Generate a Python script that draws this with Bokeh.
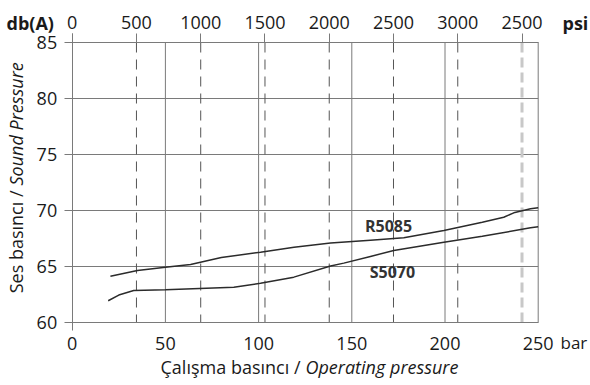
import math
from bokeh.plotting import figure
from bokeh.models import Range1d, LinearAxis, FixedTicker, Label
from bokeh.core.properties import value
from bokeh.embed import file_html
from bokeh.resources import INLINE

# ---------------- data ----------------
PSI_PER_BAR = 14.5038

bar_ticks = [0, 50, 100, 150, 200, 250]
db_ticks = [60, 65, 70, 75, 80, 85]
psi_ticks = [0, 500, 1000, 1500, 2000, 2500, 3000, 3500]
psi_labels = ["0", "500", "1000", "1500", "2000", "2500", "3000", "2500"]

r5085_bar = [20.5, 35, 50, 63.5, 80, 101, 119, 138.6, 160, 177.9, 199.4, 220, 231.5, 236.9, 245.9, 250]
r5085_db = [64.13, 64.64, 64.94, 65.18, 65.8, 66.28, 66.72, 67.1, 67.35, 67.56, 68.21, 68.95, 69.4, 69.79, 70.15, 70.25]

s5070_bar = [19.3, 25, 33, 50, 86.7, 101, 118.9, 138.6, 145.7, 160, 172.5, 199.4, 220, 245.9, 250]
s5070_db = [61.94, 62.45, 62.86, 62.92, 63.15, 63.5, 64.05, 65.05, 65.3, 65.9, 66.43, 67.17, 67.7, 68.45, 68.55]

series_names = ["R5085", "S5070"]
series_label_bar = [169.7, 171.8]
series_label_db = [68.66, 64.5]

# ---------------- layout (pixels) ----------------
W, H = 590, 385
PX_L, PX_R = 71.7, 537.7      # x of 0 bar / 250 bar
PY_T, PY_B = 42.0, 322.0      # y of 85 dB / 60 dB
XMIN, XMAX = bar_ticks[0], bar_ticks[-1]
YMIN, YMAX = db_ticks[0], db_ticks[-1]
kx = (PX_R - PX_L) / (XMAX - XMIN)
ky = (PY_B - PY_T) / (YMAX - YMIN)

def bx(px):
    return XMIN + (px - PX_L) / kx

def dy(py):
    return YMAX - (py - PY_T) / ky

FONT = "Open Sans"
TEXT = "#1a1a1a"
GRID = "#7a7a7a"
CURVE = "#2b2b2b"
FS = "18px"

p = figure(width=W, height=H,
           x_range=Range1d(bx(0), bx(W)), y_range=Range1d(dy(H), dy(0)),
           x_axis_type=None, y_axis_type=None,
           output_backend="svg", toolbar_location=None,
           min_border=0, min_border_left=0, min_border_right=0,
           min_border_top=0, min_border_bottom=0)
p.background_fill_color = "white"
p.border_fill_color = "white"
p.outline_line_color = None

# solid grid lines (bounded to the chart area)
vx = bar_ticks[1:]
p.segment(x0=vx, y0=[YMIN] * len(vx), x1=vx, y1=[YMAX] * len(vx),
          line_color=GRID, line_width=1)
hy = db_ticks[1:]
p.segment(x0=[XMIN] * len(hy), y0=hy, x1=[XMAX] * len(hy), y1=hy,
          line_color=GRID, line_width=1)

# dashed psi grid lines
psi_bar = [v / PSI_PER_BAR for v in psi_ticks]
dx = psi_bar[1:-1]
p.segment(x0=dx, y0=[YMAX] * len(dx), x1=dx, y1=[YMIN] * len(dx),
          line_color="#555555", line_width=1, line_dash="10 7")
lx = psi_bar[-1:]
p.segment(x0=lx, y0=[YMAX] * len(lx), x1=lx, y1=[YMIN] * len(lx),
          line_color="#c8c8c8", line_width=3, line_dash="10 5")

def style_axis(ax):
    ax.axis_line_color = GRID
    ax.major_tick_line_color = GRID
    ax.minor_tick_line_color = None
    ax.major_label_text_font = FONT
    ax.major_label_text_font_size = FS
    ax.major_label_text_color = TEXT
    ax.axis_label = None

bottom = LinearAxis(fixed_location=YMIN, ticker=FixedTicker(ticks=bar_ticks), bounds=(XMIN, XMAX))
style_axis(bottom)
bottom.major_tick_out = 0
bottom.major_tick_in = 0
bottom.major_label_standoff = 14
p.add_layout(bottom, "below")

left = LinearAxis(fixed_location=XMIN, ticker=FixedTicker(ticks=db_ticks), bounds=(dy(330), dy(33)))
style_axis(left)
left.major_tick_out = 8
left.major_tick_in = 0
left.major_label_standoff = 7
p.add_layout(left, "left")

top = LinearAxis(fixed_location=YMAX, ticker=FixedTicker(ticks=psi_bar), bounds=(XMIN, XMAX),
                 major_label_overrides={psi_bar[i]: psi_labels[i] for i in range(len(psi_bar))})
style_axis(top)
top.major_tick_out = 9
top.major_tick_in = 0
top.major_label_standoff = 5
p.add_layout(top, "above")

# curves
p.line(r5085_bar, r5085_db, line_color=CURVE, line_width=1.5)
p.line(s5070_bar, s5070_db, line_color=CURVE, line_width=1.5)

p.text(x=series_label_bar, y=series_label_db, text=series_names,
       text_font=value(FONT), text_font_style="bold", text_font_size="16px",
       text_align="center", text_baseline="middle", text_color="#333333")

# titles / units
def lab(px, py, text, align="left", style="normal", angle=0.0, size=FS):
    p.add_layout(Label(x=bx(px), y=dy(py), text=text,
                       text_font=FONT, text_font_size=size, text_font_style=style,
                       text_color=TEXT, text_align=align, text_baseline="middle",
                       angle=angle))

lab(300, 366, "Çalışma basıncı /", align="right")
lab(305, 366, "Operating pressure", align="left", style="italic")
lab(15, 190, "Ses basıncı /", align="right", angle=math.pi / 2)
lab(15, 185, "Sound Pressure", align="left", style="italic", angle=math.pi / 2)
lab(6, 22, "db(A)", style="bold")
lab(562, 22, "psi", style="bold")
lab(560, 342, "bar", size="17px")

open("out.html", "w").write(file_html(p, INLINE))
